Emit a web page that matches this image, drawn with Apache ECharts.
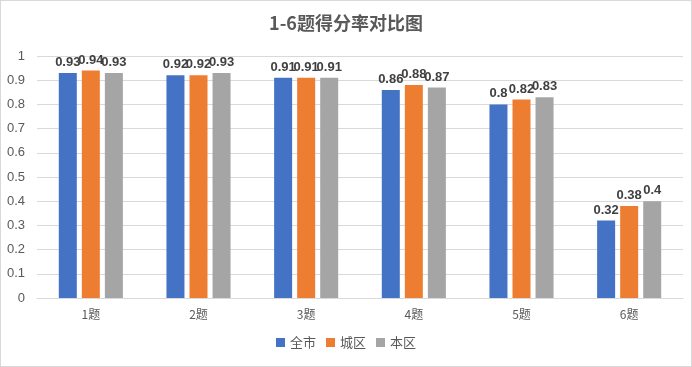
<!DOCTYPE html>
<html><head><meta charset="utf-8">
<script src="https://cdn.jsdelivr.net/npm/echarts@6/dist/echarts.min.js"></script>
<style>html,body{margin:0;padding:0;background:#fff}#c{width:692px;height:367px;box-sizing:border-box;border:1px solid #d9d9d9}</style>
</head><body><div id="c"></div>
<script>
const categories = ['1题','2题','3题','4题','5题','6题'];
const seriesNames = ['全市','城区','本区'];
const quanshi = [0.93,0.92,0.91,0.86,0.8,0.32];
const chengqu = [0.94,0.92,0.91,0.88,0.82,0.38];
const benqu = [0.93,0.93,0.91,0.87,0.83,0.4];
const colors = ['#4472c4','#ed7d31','#a5a5a5'];
const chart = echarts.init(document.getElementById('c'));
const font = '"Microsoft YaHei","Noto Sans CJK SC",sans-serif';
const mk = (name, data, i) => ({
  name, type:'bar', data, barWidth:18, barGap:'28%',
  itemStyle:{color:colors[i]},
  label:{show:true, position:'top', color:'#404040', fontSize:13, fontWeight:'bold', fontFamily:'Liberation Sans, Arial', distance:4}
});
chart.setOption({
  animation:false,
  title:{text:'1-6题得分率对比图', left:'center', top:8, textStyle:{fontSize:18, fontWeight:'bold', color:'#595959', fontFamily:font}},
  legend:{bottom:12, left:'center', itemWidth:9, itemHeight:9, itemGap:10, icon:'rect', textStyle:{color:'#595959', fontSize:13, fontFamily:font}},
  grid:{left:36, right:8, top:55, bottom:68},
  xAxis:{type:'category', data:categories, axisLine:{lineStyle:{color:'#d9d9d9'}}, axisTick:{show:false},
    axisLabel:{color:'#595959', fontSize:12, margin:10, fontFamily:font}},
  yAxis:{type:'value', min:0, max:1, interval:0.1, axisLine:{show:false}, axisTick:{show:false},
    splitLine:{lineStyle:{color:'#d9d9d9'}},
    axisLabel:{color:'#595959', fontSize:13, margin:12, fontFamily:'Liberation Sans, Arial', formatter:v=>String(Math.round(v*10)/10)}},
  series:[mk(seriesNames[0],quanshi,0), mk(seriesNames[1],chengqu,1), mk(seriesNames[2],benqu,2)]
});
</script></body></html>
